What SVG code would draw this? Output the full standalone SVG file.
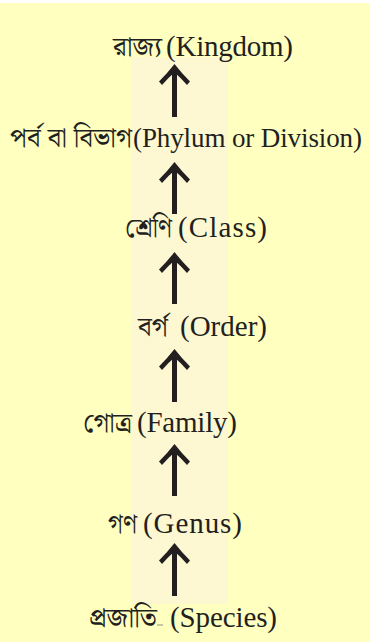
<svg xmlns="http://www.w3.org/2000/svg" width="370" height="642" viewBox="0 0 370 642">
<style>
.en{font-family:"Liberation Serif","Times New Roman",serif;font-size:29px;fill:#231f20}
.bn{font-family:"Noto Serif Bengali","Noto Sans Bengali","Lohit Bengali","FreeSerif","Liberation Serif",serif;font-size:27px;fill:#231f20}
.shaft{stroke:#231f20;stroke-width:5;fill:none}
.head{fill:#231f20}
</style>
<defs>
<path id="ah" d="M0 0 Q7 9 15.5 17.5 L12.5 21 Q6 13.5 0 8.5 Q-6 13.5 -12.5 21 L-15.5 17.5 Q-7 9 0 0 Z"/>
</defs>
<rect x="0" y="0" width="370" height="642" fill="#ffffc0"/>
<rect x="0" y="0" width="370" height="3" fill="#ffffff"/>
<rect x="131" y="57" width="97" height="547" fill="#fdf8d2"/>
<g id="connectors">
<g transform="translate(174.5,64)"><line class="shaft" x1="0" y1="5" x2="0" y2="53"/><use href="#ah" class="head"/></g>
<g transform="translate(174.5,162)"><line class="shaft" x1="0" y1="5" x2="0" y2="52"/><use href="#ah" class="head"/></g>
<g transform="translate(174.5,252)"><line class="shaft" x1="0" y1="5" x2="0" y2="52"/><use href="#ah" class="head"/></g>
<g transform="translate(174.5,349)"><line class="shaft" x1="0" y1="5" x2="0" y2="53"/><use href="#ah" class="head"/></g>
<g transform="translate(174.5,444)"><line class="shaft" x1="0" y1="5" x2="0" y2="52"/><use href="#ah" class="head"/></g>
<g transform="translate(174.5,543)"><line class="shaft" x1="0" y1="5" x2="0" y2="53"/><use href="#ah" class="head"/></g>
</g>
<g id="kingdom">
<text class="bn" x="113" y="56" textLength="49" lengthAdjust="spacingAndGlyphs">রাজ্য</text>
<text class="en" x="166" y="56" textLength="127" lengthAdjust="spacing">(Kingdom)</text>
</g>
<g id="phylum">
<text class="bn" x="10" y="147" textLength="122" lengthAdjust="spacingAndGlyphs">পর্ব বা বিভাগ</text>
<text class="en" x="133" y="147" textLength="229" lengthAdjust="spacing" style="font-size:27px">(Phylum or Division)</text>
</g>
<g id="class">
<text class="bn" x="125" y="237" textLength="47" lengthAdjust="spacingAndGlyphs">শ্রেণি</text>
<text class="en" x="178" y="237" textLength="89" lengthAdjust="spacing">(Class)</text>
</g>
<g id="order">
<text class="bn" x="138" y="336" textLength="30" lengthAdjust="spacingAndGlyphs">বর্গ</text>
<text class="en" x="180" y="336" textLength="87" lengthAdjust="spacing">(Order)</text>
</g>
<g id="family">
<text class="bn" x="83" y="432" textLength="49" lengthAdjust="spacingAndGlyphs">গোত্র</text>
<text class="en" x="137" y="432" textLength="100" lengthAdjust="spacing">(Family)</text>
</g>
<g id="genus">
<text class="bn" x="108" y="533" textLength="29" lengthAdjust="spacingAndGlyphs">গণ</text>
<text class="en" x="143" y="533" textLength="99" lengthAdjust="spacing">(Genus)</text>
</g>
<g id="species">
<text class="bn" x="89" y="627" textLength="68" lengthAdjust="spacingAndGlyphs">প্রজাতি</text>
<rect x="157" y="624" width="6" height="2" fill="#c9c6a6"/>
<text class="en" x="170" y="627" textLength="107" lengthAdjust="spacing">(Species)</text>
</g>
</svg>
